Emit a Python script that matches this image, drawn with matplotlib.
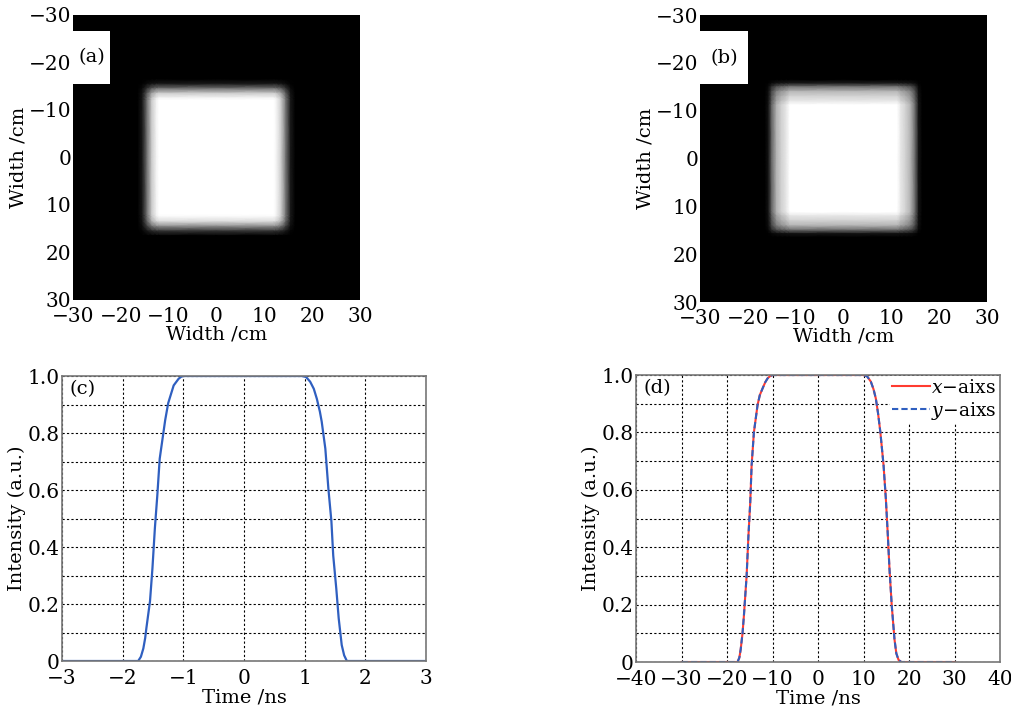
import numpy as np
import matplotlib
matplotlib.use("Agg")
import matplotlib.pyplot as plt
from matplotlib.patches import Rectangle

plt.rcParams['font.family'] = ['DejaVu Serif']
plt.rcParams['mathtext.fontset'] = 'dejavuserif'
plt.rcParams['font.size'] = 14
plt.rcParams['axes.labelsize'] = 14
plt.rcParams['xtick.labelsize'] = 14.5
plt.rcParams['ytick.labelsize'] = 14.5

# beam profile (a): positions /cm and normalised intensity
prof_a_pos = [-30, -16.5, -15.5, -14.5, -13.5, -12.5, -12, 0, 12, 12.5, 13.5, 14.5, 15.5, 16.5, 30]
prof_a_x = [0, 0, 0.1, 0.45, 0.8, 0.96, 1, 1, 1, 0.96, 0.8, 0.45, 0.1, 0, 0]
prof_a_y = [0, 0, 0.1, 0.45, 0.8, 0.96, 1, 1, 1, 0.97, 0.85, 0.55, 0.2, 0, 0]

# beam profile (b): softer edges with a grey halo
prof_b_pos = [-30, -16.5, -15.7, -15, -14, -13, -12, -11.2, 0, 11.2, 12, 13, 14, 15, 15.7, 16.5, 30]
prof_b_x = [0, 0, 0.08, 0.4, 0.7, 0.82, 0.9, 1, 1, 1, 0.9, 0.82, 0.7, 0.4, 0.08, 0, 0]
prof_b_y = [0, 0, 0.12, 0.45, 0.72, 0.83, 0.91, 1, 1, 1, 0.9, 0.82, 0.7, 0.4, 0.08, 0, 0]

# temporal pulse (c)
t_c = [-3, -1.745, -1.70, -1.66, -1.63, -1.61, -1.55, -1.51, -1.47, -1.43, -1.39, -1.33, -1.30, -1.25,
       -1.16, -1.08, -1.04, -1.0,
       0.95, 1.02, 1.09, 1.15, 1.20, 1.25, 1.28, 1.34, 1.39, 1.44, 1.47, 1.52, 1.56, 1.61, 1.65, 1.695, 3]
i_c = [0, 0, 0.015, 0.044, 0.08, 0.115, 0.21, 0.325, 0.465, 0.58, 0.71, 0.80, 0.845, 0.905,
       0.967, 0.99, 0.997, 1.0,
       1.0, 0.997, 0.98, 0.955, 0.92, 0.875, 0.84, 0.745, 0.605, 0.49, 0.37, 0.255, 0.15, 0.056, 0.02, 0, 0]

# temporal pulse (d), x and y axis
t_d = [-30, -17.7, -17.3, -17.0, -16.6, -16.3, -15.7, -15.3, -14.9, -14.6, -14.1, -13.3, -12.8, -12.2,
       -11.6, -11.1, -10.5, -9.9,
       10.0, 10.8, 11.6, 12.2, 12.7, 13.2, 13.7, 14.4, 14.9, 15.3, 15.7, 16.2, 16.8, 17.2, 17.7, 18.3, 30]
i_dx = [0, 0, 0.015, 0.044, 0.10, 0.16, 0.30, 0.44, 0.557, 0.685, 0.80, 0.895, 0.93, 0.953,
        0.975, 0.988, 0.997, 1.0,
        1.0, 0.995, 0.977, 0.95, 0.918, 0.865, 0.80, 0.685, 0.569, 0.452, 0.324, 0.196, 0.079, 0.03, 0.007, 0, 0]
i_dy = [0, 0, 0.015, 0.044, 0.10, 0.16, 0.30, 0.44, 0.557, 0.685, 0.80, 0.895, 0.93, 0.953,
        0.975, 0.988, 0.997, 1.0,
        1.0, 0.995, 0.977, 0.95, 0.918, 0.865, 0.80, 0.685, 0.569, 0.452, 0.324, 0.196, 0.079, 0.03, 0.007, 0, 0]

width_ticks = [-30, -20, -10, 0, 10, 20, 30]
int_ticks = [0, 0.1, 0.2, 0.3, 0.4, 0.5, 0.6, 0.7, 0.8, 0.9, 1.0]
int_labels = ['0', '', '0.2', '', '0.4', '', '0.6', '', '0.8', '', '1.0']
tc_ticks = [-3, -2, -1, 0, 1, 2, 3]
td_ticks = [-40, -30, -20, -10, 0, 10, 20, 30, 40]

fig = plt.figure(figsize=(10.12, 7.10), dpi=100)
ax_a = fig.add_axes([0.0721, 0.5775, 0.2836, 0.4014])
ax_b = fig.add_axes([0.6917, 0.5746, 0.2836, 0.4042])
ax_c = fig.add_axes([0.0613, 0.0690, 0.3597, 0.4014])
ax_d = fig.add_axes([0.6285, 0.0676, 0.3597, 0.4042])


def beam(ax, pos, px, py, tag, box_w):
    pos = np.array(pos)
    img = np.outer(py, px)
    ax.pcolormesh(pos, pos, img, shading='gouraud', cmap='gray', vmin=0, vmax=1)
    ax.set_xlim(-30, 30)
    ax.set_ylim(30, -30)
    ax.set_xticks(width_ticks)
    ax.set_yticks(width_ticks)
    ax.tick_params(axis='x', length=0, pad=5)
    ax.tick_params(axis='y', length=0, pad=1)
    ax.set_xlabel('Width /cm', labelpad=0)
    ax.set_ylabel('Width /cm', labelpad=1)
    for s in ax.spines.values():
        s.set_visible(False)
    ax.add_patch(Rectangle((-30, -26.6), box_w, 11.1, facecolor='white', edgecolor='none', zorder=3))
    ax.text(-30 + box_w / 2, -21.1, tag, ha='center', va='center', zorder=4)


beam(ax_a, prof_a_pos, prof_a_x, prof_a_y, '(a)', 7.7)
beam(ax_b, prof_b_pos, prof_b_x, prof_b_y, '(b)', 10.0)


def pulse_axes(ax, xticks, tag):
    ax.set_ylim(0, 1)
    ax.set_yticks(int_ticks)
    ax.set_yticklabels(int_labels)
    ax.set_xticks(xticks)
    ax.set_xlim(xticks[0], xticks[-1])
    ax.grid(True, color='k', linestyle=(0, (2, 2)), linewidth=0.8)
    ax.tick_params(axis='x', length=0, pad=6)
    ax.tick_params(axis='y', length=0, pad=2)
    for s in ax.spines.values():
        s.set_color('#777777')
        s.set_linewidth(1.2)
        s.set_zorder(7)
    ax.set_xlabel('Time /ns', labelpad=0)
    ax.set_ylabel('Intensity (a.u.)', labelpad=1)
    ax.text(0.02, 0.985, tag, transform=ax.transAxes, ha='left', va='top')


pulse_axes(ax_c, tc_ticks, '(c)')
ax_c.plot(t_c, i_c, color='#2f5fc0', linewidth=1.6)

pulse_axes(ax_d, td_ticks, '(d)')
ax_d.plot(t_d, i_dx, color='#ff3b30', linewidth=1.5, label=r'$x$−aixs', zorder=6)
ax_d.plot(t_d, i_dy, color='#2f5fc0', linewidth=1.5, linestyle=(0, (3, 1.5)), label=r'$y$−aixs', zorder=6)
leg = ax_d.legend(loc='upper right', frameon=True, fancybox=False, edgecolor='none', framealpha=1,
                  borderaxespad=0.05, borderpad=0.15, handlelength=2.0, handletextpad=0.05,
                  labelspacing=0.15, fontsize=13.5)
leg.set_zorder(4)

fig.savefig('out.png', dpi=100)
